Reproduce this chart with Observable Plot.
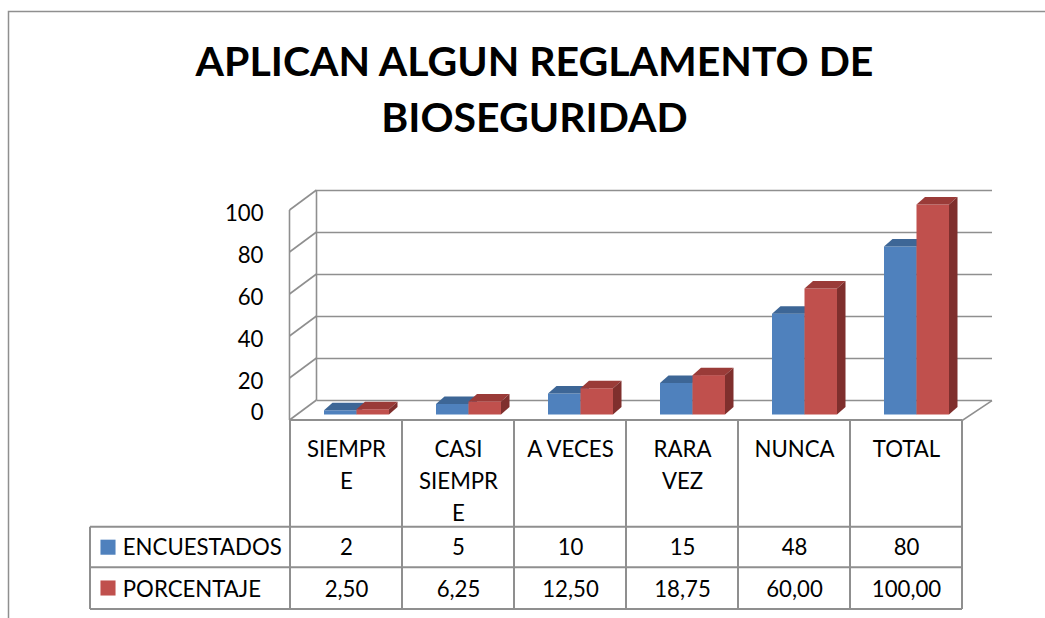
<!DOCTYPE html>
<html>
<head>
<meta charset="utf-8">
<script src="https://cdn.jsdelivr.net/npm/d3@7"></script>
<script src="https://cdn.jsdelivr.net/npm/@observablehq/plot@0.6"></script>
<style>
  html, body { margin: 0; padding: 0; background: #fff; }
  #chart svg { display: block; }
</style>
</head>
<body>
<div id="chart"></div>
<script>
// ---- data ----
const categories = ["SIEMPRE", "CASI SIEMPRE", "A VECES", "RARA VEZ", "NUNCA", "TOTAL"];
const headerLabels = ["SIEMPR\nE", "CASI\nSIEMPR\nE", "A VECES", "RARA\nVEZ", "NUNCA", "TOTAL"];
const encuestados = [2, 5, 10, 15, 48, 80];
const porcentaje = [2.5, 6.25, 12.5, 18.75, 60, 100];
const encuestadosLabels = ["2", "5", "10", "15", "48", "80"];
const porcentajeLabels = ["2,50", "6,25", "12,50", "18,75", "60,00", "100,00"];
const seriesNames = ["ENCUESTADOS", "PORCENTAJE"];
const yTicks = [0, 20, 40, 60, 80, 100];
const titleText = "APLICAN ALGUN REGLAMENTO DE\nBIOSEGURIDAD";

// ---- style ----
const BLUE = "#4F81BD", BLUE_TOP = "#3D6696", BLUE_SIDE = "#385D8A";
const RED = "#C0504D", RED_TOP = "#9A3B38", RED_SIDE = "#7F2F2D";
const GRID = "#8f8f8f";
const FONT = 22.2;
const WALL_DX = 27, WALL_DY = 20;     // depth of the 3D floor / back wall
const BAR_DX = 8.5, BAR_DY = 7.5;     // depth of each bar
const BAR_SHIFT = -5.5;               // bar front plane relative to floor front

const encRows = categories.map((c, i) => ({cat: c, value: encuestados[i]}));
const pctRows = categories.map((c, i) => ({cat: c, value: porcentaje[i]}));

// 3D faces (top + side) for a bar series, derived from the same scales
function barFaces(rows, insetL, insetR, topColor, sideColor) {
  return (index, scales) => {
    const {x, y} = scales;
    const bw = x.bandwidth();
    const g = d3.create("svg:g");
    for (const r of rows) {
      const xl = x(r.cat) + insetL, xr = x(r.cat) + bw - insetR;
      const yt = y(r.value) + BAR_SHIFT, yb = y(0) + BAR_SHIFT;
      g.append("path")
        .attr("d", `M${xl},${yt}L${xr},${yt}L${xr + BAR_DX},${yt - BAR_DY}L${xl + BAR_DX},${yt - BAR_DY}Z`)
        .attr("fill", topColor);
      g.append("path")
        .attr("d", `M${xr},${yt}L${xr + BAR_DX},${yt - BAR_DY}L${xr + BAR_DX},${yb - BAR_DY}L${xr},${yb}Z`)
        .attr("fill", sideColor);
    }
    return g.node();
  };
}

// walls / floor skeleton
function walls(index, scales, values, dims) {
  const {y} = scales;
  const L = dims.marginLeft, R = dims.width - dims.marginRight;
  const g = d3.create("svg:g").attr("fill", "none").attr("stroke", GRID).attr("stroke-width", 1.6);
  for (const v of yTicks) {
    g.append("path").attr("d", `M${L},${y(v)}l${WALL_DX},${-WALL_DY}`);
  }
  const y0 = y(yTicks[0]), y1 = y(yTicks[yTicks.length - 1]);
  g.append("path").attr("d", `M${L + WALL_DX},${y0 - WALL_DY}V${y1 - WALL_DY}`);
  g.append("path").attr("d", `M${L},${y0}V${y1}`);
  g.append("path").attr("d", `M${L},${y0}H${R + 1.5}l${WALL_DX + 2},${-WALL_DY + 0.7}`);
  // outer chart border (cropped)
  g.append("path").attr("d", `M8.5,${dims.height}V11.5H${dims.width}`).attr("stroke-width", 1.5);
  return g.node();
}

// data table lines
const TABLE_LEFT = 90, ROW1_TOP = 526.7, ROW2_TOP = 567.3, TABLE_BOTTOM = 609;
function tableLines(index, scales, values, dims) {
  const {x, y} = scales;
  const bw = x.bandwidth();
  const bounds = categories.map(c => x(c)).concat([x(categories[categories.length - 1]) + bw]);
  const right = bounds[bounds.length - 1];
  const top = y(0);
  const g = d3.create("svg:g").attr("fill", "none").attr("stroke", GRID).attr("stroke-width", 2);
  for (const b of bounds) g.append("path").attr("d", `M${b},${top}V${TABLE_BOTTOM}`);
  g.append("path").attr("d", `M${TABLE_LEFT},${ROW1_TOP}V${TABLE_BOTTOM}`);
  g.append("path").attr("d", `M${bounds[0]},${top}H${right}`);
  for (const yy of [ROW1_TOP, ROW2_TOP, TABLE_BOTTOM]) {
    g.append("path").attr("d", `M${TABLE_LEFT},${yy}H${right}`);
  }
  return g.node();
}

const plot = Plot.plot({
  width: 1045,
  height: 618,
  marginLeft: 289.5,
  marginRight: 83.5,
  marginTop: 210,
  marginBottom: 198,
  style: {fontFamily: "Lato, 'Open Sans', sans-serif", background: "#fff", color: "#000"},
  x: {type: "band", domain: categories, padding: 0, axis: null},
  y: {domain: [0, 100], axis: null},
  marks: [
    // back wall gridlines
    Plot.ruleY(yTicks, {y: d => d, dx: WALL_DX, dy: -WALL_DY, insetRight: -3.5, stroke: GRID, strokeWidth: 1.6}),
    walls,
    // y tick labels
    Plot.text(yTicks.filter(v => v > 0), {y: d => d, text: d => String(d), frameAnchor: "left", dx: -26.5, dy: 3,
      textAnchor: "end", fontSize: FONT, fill: "#000"}),
    Plot.text(yTicks.filter(v => v === 0), {y: d => d, text: d => String(d), frameAnchor: "left", dx: -26.5, dy: -8,
      textAnchor: "end", fontSize: FONT, fill: "#000"}),
    // bars
    Plot.barY(encRows, {x: "cat", y: "value", fill: BLUE, insetLeft: 34, insetRight: 45.5, dy: BAR_SHIFT}),
    barFaces(encRows, 34, 45.5, BLUE_TOP, BLUE_SIDE),
    Plot.barY(pctRows, {x: "cat", y: "value", fill: RED, insetLeft: 66.5, insetRight: 13, dy: BAR_SHIFT}),
    barFaces(pctRows, 66.5, 13, RED_TOP, RED_SIDE),
    // data table
    tableLines,
    Plot.text(categories, {x: d => d, text: (d, i) => headerLabels[i], frameAnchor: "bottom", lineAnchor: "top",
      dy: 13.5, lineHeight: 32 / FONT, fontSize: FONT, fill: "#000"}),
    Plot.text(categories, {x: d => d, text: (d, i) => encuestadosLabels[i], frameAnchor: "bottom", lineAnchor: "middle",
      dy: 127.5, fontSize: FONT, fill: "#000"}),
    Plot.text(categories, {x: d => d, text: (d, i) => porcentajeLabels[i], frameAnchor: "bottom", lineAnchor: "middle",
      dy: 169, fontSize: FONT, fill: "#000"}),
    Plot.text([seriesNames[0]], {text: d => d, frameAnchor: "bottom-left", dx: -167.2, dy: 127.5, textAnchor: "start",
      lineAnchor: "middle", fontSize: FONT, fill: "#000"}),
    Plot.text([seriesNames[1]], {text: d => d, frameAnchor: "bottom-left", dx: -167.2, dy: 169, textAnchor: "start",
      lineAnchor: "middle", fontSize: FONT, fill: "#000"}),
    Plot.dot([seriesNames[0]], {frameAnchor: "bottom-left", dx: -182, dy: 126.7, symbol: "square", r: 8.5, fill: BLUE, stroke: null}),
    Plot.dot([seriesNames[1]], {frameAnchor: "bottom-left", dx: -182, dy: 167.5, symbol: "square", r: 8.5, fill: RED, stroke: null}),
    // title
    Plot.text([titleText], {text: d => d, frameAnchor: "top", dx: -91.5, dy: -174.3, lineAnchor: "top",
      lineHeight: 56.3 / 41, fontSize: 41, fontWeight: "bold", fill: "#000"})
  ]
});
document.getElementById("chart").appendChild(plot);
</script>
</body>
</html>
